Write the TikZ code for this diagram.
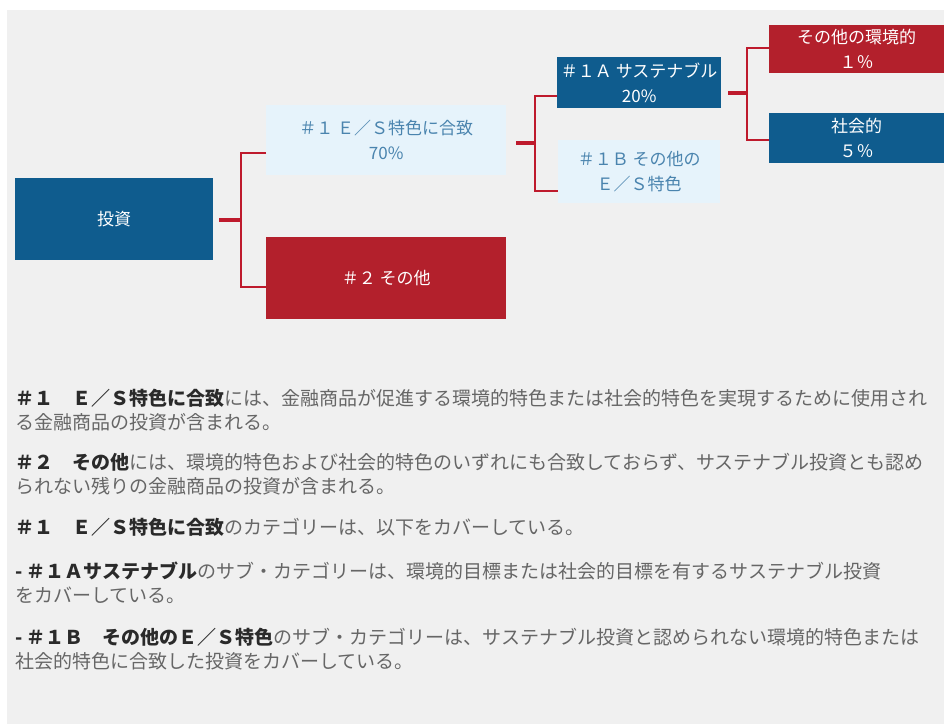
\documentclass[tikz,border=0pt]{standalone}
\usepackage{fontspec}
\setmainfont{Noto Sans CJK JP}
\usetikzlibrary{calc}
\definecolor{bgc}{HTML}{F0F0F0}
\definecolor{invblue}{HTML}{0F5C8E}
\definecolor{invred}{HTML}{B3202C}
\definecolor{linered}{HTML}{BE1A2C}
\definecolor{paleblue}{HTML}{E6F3FB}
\definecolor{paletext}{HTML}{4A84AE}
\definecolor{bodytext}{HTML}{666666}
\definecolor{headtext}{HTML}{2A2A2A}
\tikzset{
  box/.style={anchor=north west, inner sep=0pt, align=center, font=\fontsize{17}{25}\selectfont},
  bluebox/.style={box, fill=invblue, text=white},
  redbox/.style={box, fill=invred, text=white},
  palebox/.style={box, fill=paleblue, text=paletext},
  stub/.style={linered, line width=4.5pt},
  bracket/.style={linered, line width=2pt},
  para/.style={anchor=north west, inner sep=0pt, align=left, text=bodytext, font=\fontsize{19}{24}\selectfont},
}
\newcommand{\hd}[1]{\textcolor{headtext}{\textbf{#1}}}

\begin{document}
\begin{tikzpicture}[x=1pt, y=-1pt]
      \useasboundingbox (0,0) rectangle (944,724);
      \fill[white] (0,0) rectangle (944,724);
      \fill[bgc] (7,10) rectangle (944,724);

      % tree
      \node[bluebox, minimum width=198pt, minimum height=82pt] (inv) at (15,178) {投資};
      \node[palebox, minimum width=240pt, minimum height=70pt] (es) at (266,105) {＃１ Ｅ／Ｓ特色に合致\\70\%};
      \node[redbox, minimum width=240pt, minimum height=82pt] (oth) at (266,237) {＃２ その他};
      \node[bluebox, minimum width=164pt, minimum height=51pt] (sa) at (557,57) {＃１Ａ サステナブル\\20\%};
      \node[palebox, minimum width=162pt, minimum height=63pt] (sb) at (558,140) {＃１Ｂ その他の\\Ｅ／Ｓ特色};
      \node[redbox, minimum width=175pt, minimum height=48pt] (env) at (769,25) {その他の環境的\\１％};
      \node[bluebox, minimum width=175pt, minimum height=50pt] (soc) at (769,113) {社会的\\５％};

      \coordinate (j1) at (241,220);
      \coordinate (j2) at (535,143);
      \coordinate (j3) at (747,93);
      \draw[stub] ([xshift=6pt]inv.east |- j1) -- (j1);
      \draw[bracket] ([yshift=-13pt]es.west) -| (j1) |- ([yshift=-9pt]oth.west);
      \draw[stub] ([xshift=10pt]es.east |- j2) -- (j2);
      \draw[bracket] ([yshift=-13.5pt]sa.west) -| (j2) |- ([yshift=-19.5pt]sb.west);
      \draw[stub] ([xshift=7pt]sa.east |- j3) -- (j3);
      \draw[bracket] ([yshift=1pt]env.west) -| (j3) |- ([yshift=-2pt]soc.west);

      % notes
      \node[para] (n1) at (15,389) {\hd{＃１　Ｅ／Ｓ特色に合致}には、金融商品が促進する環境的特色または社会的特色を実現するために使用され\\る金融商品の投資が含まれる。};
      \node[para] (n2) at (15,453) {\hd{＃２　その他}には、環境的特色および社会的特色のいずれにも合致しておらず、サステナブル投資とも認め\\られない残りの金融商品の投資が含まれる。};
      \node[para] (n3) at (15,518) {\hd{＃１　Ｅ／Ｓ特色に合致}のカテゴリーは、以下をカバーしている。};
      \node[para] (n4) at (15,562) {\hd{- ＃１Ａサステナブル}のサブ・カテゴリーは、環境的目標または社会的目標を有するサステナブル投資\\をカバーしている。};
      \node[para] (n5) at (15,628) {\hd{- ＃１Ｂ　その他のＥ／Ｓ特色}のサブ・カテゴリーは、サステナブル投資と認められない環境的特色または\\社会的特色に合致した投資をカバーしている。};
\end{tikzpicture}
\end{document}
